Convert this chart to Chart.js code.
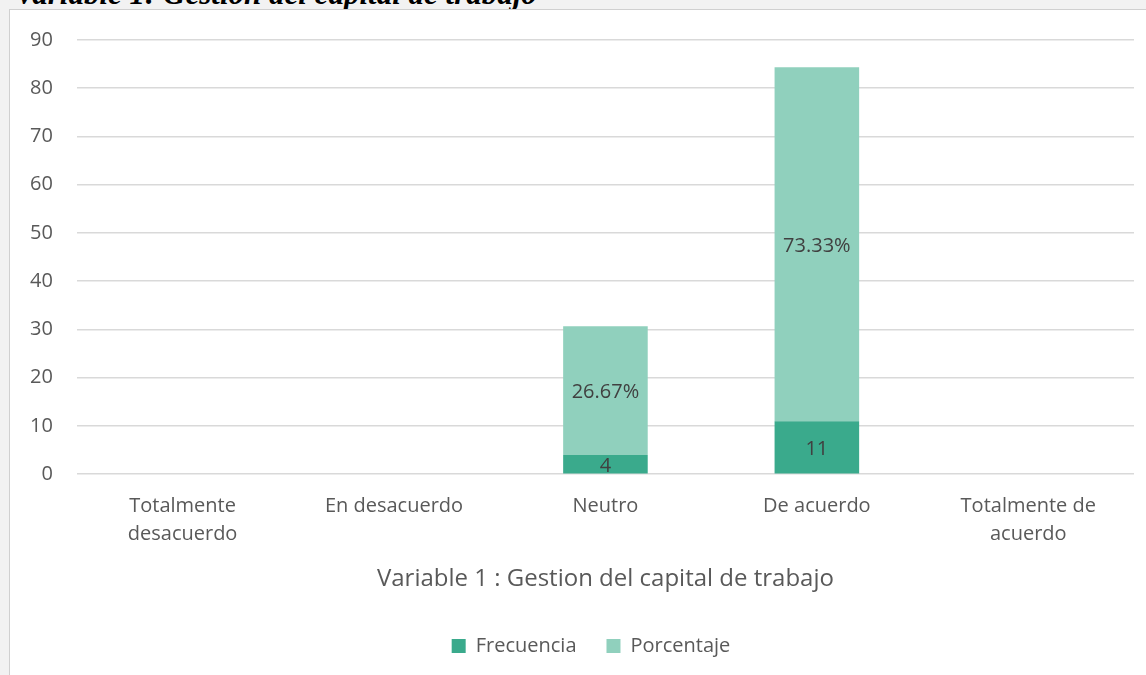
<!DOCTYPE html>
<html>
<head>
<meta charset="utf-8">
<script src="https://cdn.jsdelivr.net/npm/chart.js@4"></script>
<style>
  html, body { margin: 0; padding: 0; background: #f2f2f2; width: 1146px; height: 675px; overflow: hidden; }
  #heading {
    position: absolute; left: 15px; top: -24px;
    font-family: "Liberation Serif", serif; font-style: italic; font-weight: bold;
    font-size: 31px; color: #000; white-space: nowrap;
  }
  #panel {
    position: absolute; left: 9px; top: 9px; width: 1136px; height: 666px;
    background: #fff; border: 1px solid #d0d0d0; border-right: none; border-bottom: none;
  }
  #chart { position: absolute; left: 0; top: -6px; }
</style>
</head>
<body>
<div id="heading">Variable 1: Gestión del capital de trabajo</div>
<div id="panel"><canvas id="chart" width="1136" height="672"></canvas></div>
<script>
const categories = [["Totalmente", "desacuerdo"], "En desacuerdo", "Neutro", "De acuerdo", ["Totalmente de", "acuerdo"]];
const frecuencia = [0, 0, 4, 11, 0];
const porcentaje = [0, 0, 26.67, 73.33, 0];
const yTicks = { min: 0, max: 90, step: 10 };

const FONT = '"Open Sans", sans-serif';

// labels in the middle of each bar segment
const segmentLabels = {
    id: 'segmentLabels',
    afterDatasetsDraw(chart) {
        const ctx = chart.ctx;
        ctx.save();
        ctx.font = '20px ' + FONT;
        ctx.fillStyle = '#404040';
        ctx.textAlign = 'center';
        ctx.textBaseline = 'middle';
        chart.data.datasets.forEach((ds, i) => {
            const meta = chart.getDatasetMeta(i);
            meta.data.forEach((bar, j) => {
                const v = ds.data[j];
                if (!v) return;
                const text = i === 1 ? v.toFixed(2) + '%' : String(v);
                ctx.fillText(text, bar.x, (bar.y + bar.base) / 2 + 2);
            });
        });
        ctx.restore();
    }
};

// legend sits a bit right of centre in the original
const legendShift = {
    id: 'legendShift',
    afterLayout(chart) {
        const lg = chart.legend;
        lg.left += 21;
        lg.right += 21;
        lg.legendHitBoxes.forEach(b => { b.left += 21; });
    }
};

new Chart(document.getElementById('chart'), {
    type: 'bar',
    data: {
        labels: categories,
        datasets: [
            { label: 'Frecuencia', data: frecuencia, backgroundColor: '#3aaa8c', barPercentage: 0.4, categoryPercentage: 1 },
            { label: 'Porcentaje', data: porcentaje, backgroundColor: '#90d0bd', barPercentage: 0.4, categoryPercentage: 1 }
        ]
    },
    options: {
        responsive: false,
        animation: false,
        layout: { padding: { top: 4, right: 12, left: -4, bottom: 10 } },
        plugins: {
            legend: {
                position: 'bottom',
                labels: {
                    boxWidth: 14, boxHeight: 14, padding: 30,
                    color: '#595959',
                    font: { family: FONT, size: 20 }
                }
            },
            tooltip: { enabled: false }
        },
        scales: {
            x: {
                stacked: true,
                grid: { display: false },
                border: { display: false },
                ticks: { color: '#595959', font: { family: FONT, size: 20, lineHeight: 1.4 }, maxRotation: 0, padding: 10 },
                title: {
                    display: true,
                    text: 'Variable 1 : Gestion del capital de trabajo',
                    color: '#595959',
                    font: { family: FONT, size: 24 },
                    padding: { top: 7, bottom: 12 }
                }
            },
            y: {
                stacked: true,
                min: yTicks.min, max: yTicks.max,
                grid: { color: '#d9d9d9', lineWidth: 1.5, drawTicks: false },
                border: { display: false },
                ticks: { stepSize: yTicks.step, color: '#595959', font: { family: FONT, size: 20 }, padding: 24 }
            }
        }
    },
    plugins: [segmentLabels, legendShift]
});
</script>
</body>
</html>
